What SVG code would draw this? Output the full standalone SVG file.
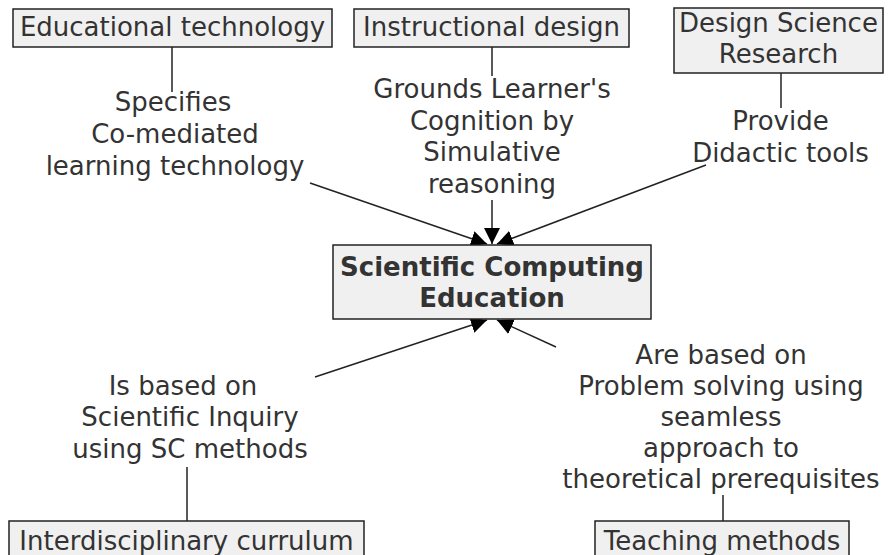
<svg xmlns="http://www.w3.org/2000/svg" width="890" height="555" viewBox="0 0 890 555">
<defs>
<style>
.box{fill:#f0f0f0;stroke:#222;stroke-width:1.5}
text{font-family:"DejaVu Sans",Verdana,sans-serif;font-size:26px;fill:#333;text-anchor:middle}
.b{font-weight:bold}
.c{stroke:#222;stroke-width:1.5;fill:none}
</style>
<marker id="ah" markerUnits="userSpaceOnUse" markerWidth="18" markerHeight="16" refX="16" refY="8" orient="auto">
<path d="M0,0 L16,8 L0,16 z" fill="#000"/>
</marker>
</defs>
<rect width="890" height="555" fill="#fff"/>
<g id="connectors">
<line class="c" x1="172" y1="47" x2="172" y2="92"/>
<line class="c" x1="310" y1="183" x2="487" y2="244" marker-end="url(#ah)"/>
<line class="c" x1="492" y1="47" x2="492" y2="76"/>
<line class="c" x1="492" y1="200" x2="492" y2="244" marker-end="url(#ah)"/>
<line class="c" x1="781" y1="73" x2="781" y2="108"/>
<line class="c" x1="706" y1="165" x2="497" y2="244" marker-end="url(#ah)"/>
<line class="c" x1="315" y1="377" x2="487" y2="320" marker-end="url(#ah)"/>
<line class="c" x1="187" y1="467" x2="187" y2="521"/>
<line class="c" x1="556" y1="347" x2="497" y2="320" marker-end="url(#ah)"/>
<line class="c" x1="723" y1="495" x2="723" y2="521"/>
</g>
<g id="edu-tech">
<rect class="box" x="13" y="9" width="319" height="38"/>
<text x="172.5" y="36">Educational technology</text>
</g>
<g id="instr-design">
<rect class="box" x="354" y="9" width="275" height="38"/>
<text x="491.5" y="36">Instructional design</text>
</g>
<g id="dsr">
<rect class="box" x="674" y="8" width="209" height="65"/>
<text x="778.5" y="32">Design Science</text>
<text x="778.5" y="63">Research</text>
</g>
<g id="sce">
<rect class="box" x="333" y="245" width="318" height="74"/>
<text class="b" x="492" y="276">Scientific Computing</text>
<text class="b" x="492" y="307">Education</text>
</g>
<g id="interdisc">
<rect class="box" x="9" y="521" width="355" height="50"/>
<text x="186.5" y="550">Interdisciplinary currulum</text>
</g>
<g id="teaching">
<rect class="box" x="595" y="521" width="254" height="50"/>
<text x="722" y="550">Teaching methods</text>
</g>
<g id="label-specifies">
<text x="173" y="111">Specifies</text>
<text x="175" y="143">Co-mediated</text>
<text x="175" y="175">learning technology</text>
</g>
<g id="label-grounds">
<text x="492" y="98">Grounds Learner's</text>
<text x="492" y="129.5">Cognition by</text>
<text x="492" y="161">Simulative</text>
<text x="492" y="192.5">reasoning</text>
</g>
<g id="label-provide">
<text x="780.5" y="130">Provide</text>
<text x="780.5" y="162">Didactic tools</text>
</g>
<g id="label-inquiry">
<text x="183" y="395">Is based on</text>
<text x="190" y="426">Scientific Inquiry</text>
<text x="190" y="458">using SC methods</text>
</g>
<g id="label-problem">
<text x="721" y="364">Are based on</text>
<text x="721" y="395">Problem solving using</text>
<text x="721" y="426">seamless</text>
<text x="721" y="457">approach to</text>
<text x="721" y="488">theoretical prerequisites</text>
</g>
</svg>
